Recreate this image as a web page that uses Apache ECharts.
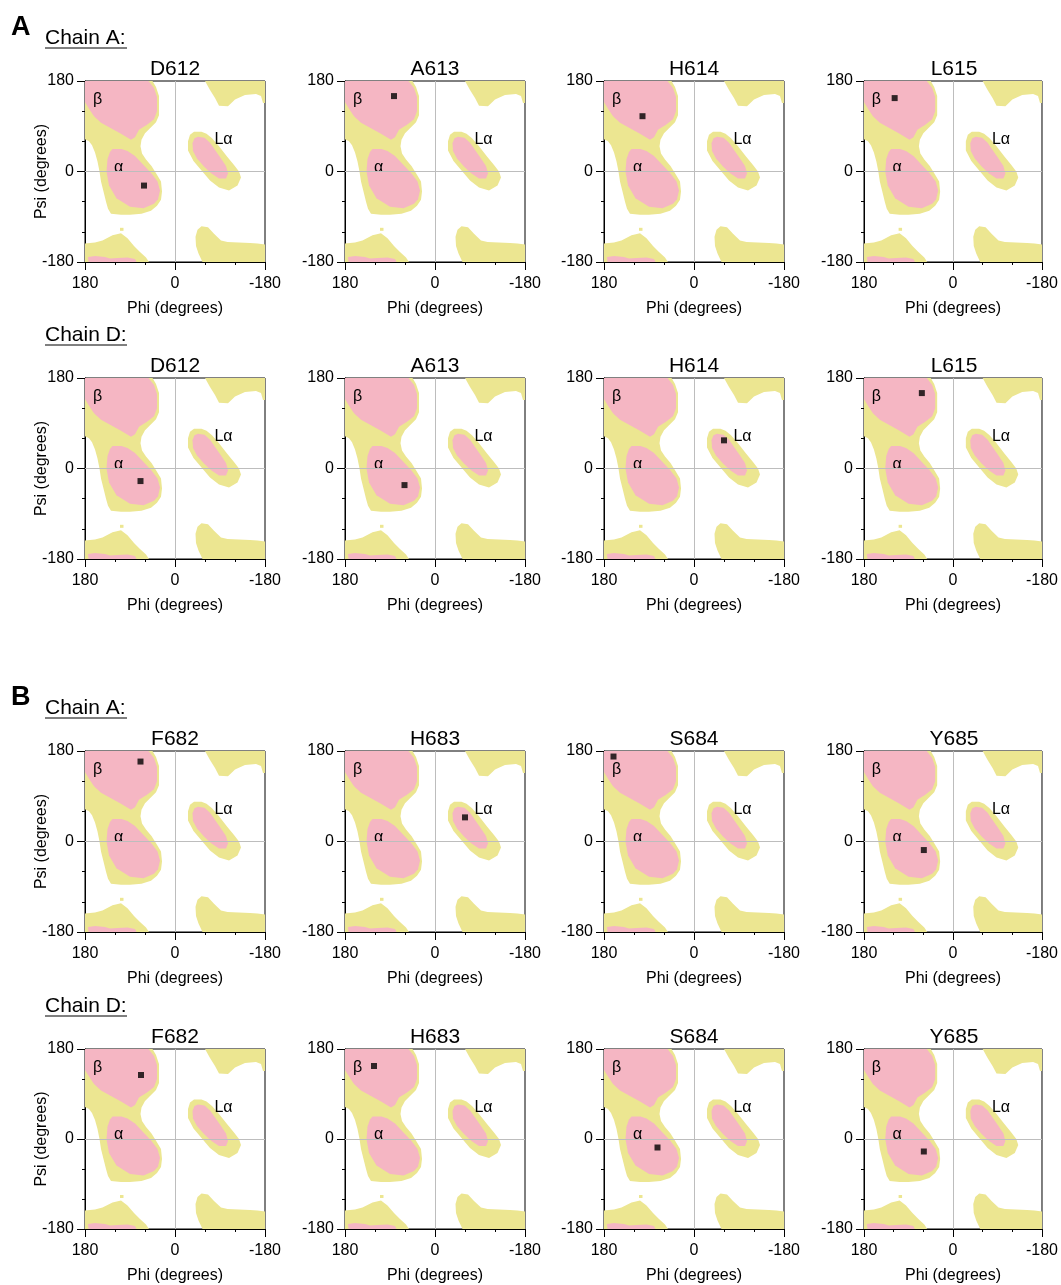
<!DOCTYPE html>
<html>
<head>
<meta charset="utf-8">
<script src="https://cdn.jsdelivr.net/npm/echarts@6/dist/echarts.min.js"></script>
<style>
html,body{margin:0;padding:0;background:#fff;}
#chart{width:1061px;height:1285px;}
</style>
</head>
<body>
<div id="chart"></div>
<script>
// ---------- DATA ----------
// residues shown in each row (panel A: rows 1-2, panel B: rows 3-4)
const panelAResidues = ['D612', 'A613', 'H614', 'L615'];
const panelBResidues = ['F682', 'H683', 'S684', 'Y685'];

// (phi, psi) of each residue, in degrees
const panelA_chainA_phi = [62, 82, 103, 118];
const panelA_chainA_psi = [-28, 150, 110, 146];
const panelA_chainD_phi = [69, 61, -60, 63];
const panelA_chainD_psi = [-25, -33, 56, 150];
const panelB_chainA_phi = [69, -60, 161, 59];
const panelB_chainA_psi = [159, 48, 169, -17];
const panelB_chainD_phi = [68, 122, 73, 59];
const panelB_chainD_psi = [128, 146, -17, -25];

// background regions (phi, psi vertices in degrees)
const yellowLeft = [[180,180],[45,180],[38,168],[32,150],[32,112],[38,98],[50,86],[60,76],[67,63],[69,50],[66,36],[58,24],[47,11],[37,-5],[28,-20],[26,-40],[28,-56],[36,-68],[48,-78],[67,-84],[90,-86],[108,-86],[128,-84],[134,-74],[138,-60],[143,-40],[148,-20],[151,0],[155,20],[160,38],[166,52],[172,60],[180,64]];
const yellowTopRight = [[-60,180],[-70,162],[-80,146],[-88,131],[-106,130],[-120,143],[-140,152],[-162,154],[-172,150],[-176,136],[-180,136],[-180,180]];
const yellowBottomRight = [[-55,-180],[-47,-163],[-42,-148],[-41,-130],[-45,-116],[-53,-109],[-66,-111],[-78,-124],[-92,-137],[-105,-140],[-150,-142],[-165,-143],[-180,-145],[-180,-180]];
const yellowBottomLeft = [[180,-180],[180,-143],[160,-141],[145,-137],[125,-127],[108,-123],[95,-133],[82,-148],[70,-160],[58,-171],[52,-180]];
const yellowLalpha = [[-38,79],[-53,79],[-63,75],[-74,66],[-88,50],[-104,30],[-118,13],[-128,0],[-132,-12],[-125,-28],[-108,-38],[-88,-32],[-70,-18],[-53,2],[-37,21],[-26,42],[-26,60],[-30,73]];
const yellowDot = [[110,-112],[103,-112],[103,-118],[110,-118]];
const pinkBeta = [[180,180],[53,180],[42,166],[36,148],[36,120],[42,104],[56,93],[72,83],[80,68],[88,63],[108,75],[128,86],[148,97],[162,110],[172,125],[180,138]];
const pinkAlpha = [[125,45],[107,45],[95,41],[80,31],[63,13],[47,-4],[35,-20],[30,-38],[34,-55],[42,-64],[63,-73],[90,-70],[117,-53],[132,-28],[137,0],[135,25],[130,39]];
const pinkLalpha = [[-46,69],[-59,67],[-70,57],[-80,43],[-92,26],[-102,11],[-106,-4],[-102,-14],[-88,-14],[-73,-4],[-58,10],[-44,26],[-36,41],[-35,56],[-39,66]];
const pinkBottomStrip = [[173,-180],[174,-170],[160,-168],[140,-170],[130,-173],[115,-172],[95,-171],[80,-174],[77,-180]];

const yellowRegions = [yellowLeft, yellowTopRight, yellowBottomRight, yellowBottomLeft, yellowLalpha, yellowDot];
const pinkRegions = [pinkBeta, pinkAlpha, pinkLalpha, pinkBottomStrip];

// region labels: phi, psi, text
const regionLabels = [[155, 143, 'β'], [113, 8, 'α'], [-97, 63, 'Lα']];

const tickValues = [180, 0, -180];

// ---------- LAYOUT ----------
const FONT = '"Liberation Sans", Arial, Helvetica, sans-serif';
const YELLOW = '#ECE691';
const PINK = '#F5B6C3';
const colLeft = [85, 345, 604, 864];
const rowTop = [81, 378, 751, 1049];
const plotW = 180, plotH = 181;

const rows = [
  {names: panelAResidues, phi: panelA_chainA_phi, psi: panelA_chainA_psi},
  {names: panelAResidues, phi: panelA_chainD_phi, psi: panelA_chainD_psi},
  {names: panelBResidues, phi: panelB_chainA_phi, psi: panelB_chainA_psi},
  {names: panelBResidues, phi: panelB_chainD_phi, psi: panelB_chainD_psi}
];

const allRegions = yellowRegions.map(p => ({poly: p, color: YELLOW}))
  .concat(pinkRegions.map(p => ({poly: p, color: PINK})));

const grids = [], xAxes = [], yAxes = [], series = [], titles = [];
let idx = 0;
rows.forEach((row, r) => {
  row.names.forEach((name, c) => {
    const i = idx++;
    grids.push({left: colLeft[c], top: rowTop[r], width: plotW, height: plotH,
      show: true, borderColor: '#000', borderWidth: 1, backgroundColor: '#fff'});
    const common = {
      gridIndex: i, type: 'value', min: -180, max: 180, interval: 180,
      axisLine: {show: true, onZero: false, lineStyle: {color: '#000', width: 1}},
      axisTick: {show: true, length: 8, lineStyle: {color: '#000'}},
      minorTick: {show: true, splitNumber: 3, length: 3, lineStyle: {color: '#000'}},
      splitLine: {show: false},
      axisLabel: {fontSize: 16, color: '#000', fontFamily: FONT,
        showMinLabel: true, showMaxLabel: true,
        formatter: v => tickValues.includes(v) ? String(v) : ''},
      nameLocation: 'middle',
      nameTextStyle: {fontSize: 16, color: '#000', fontFamily: FONT}
    };
    xAxes.push(Object.assign({}, common, {
      inverse: true, name: 'Phi (degrees)', nameGap: 39,
      axisLabel: Object.assign({}, common.axisLabel, {margin: 14})
    }));
    yAxes.push(Object.assign({}, common, {
      name: c === 0 ? 'Psi (degrees)' : '', nameGap: 35, nameMoveOverlap: false,
      axisLabel: Object.assign({}, common.axisLabel, {margin: 11})
    }));
    titles.push({text: name, left: colLeft[c] + plotW / 2, top: rowTop[r] - 22,
      textAlign: 'center', padding: 0,
      textStyle: {fontSize: 21, fontWeight: 'normal', color: '#000', fontFamily: FONT}});
    series.push({
      type: 'custom', xAxisIndex: i, yAxisIndex: i, silent: true, z: 1,
      data: allRegions.map((_, k) => k),
      renderItem: (params, api) => {
        const reg = allRegions[api.value(0)];
        return {type: 'polygon', shape: {points: reg.poly.map(p => api.coord(p))},
          style: {fill: reg.color, stroke: null}};
      }
    });
    series.push({
      type: 'custom', xAxisIndex: i, yAxisIndex: i, silent: true, z: 3,
      data: regionLabels.map((_, k) => k),
      renderItem: (params, api) => {
        const lab = regionLabels[api.value(0)];
        const pt = api.coord([lab[0], lab[1]]);
        return {type: 'text', x: pt[0], y: pt[1],
          style: {text: lab[2], fontSize: 16, fontFamily: FONT, fill: '#000',
            align: 'center', verticalAlign: 'middle'}};
      }
    });
    series.push({
      type: 'scatter', xAxisIndex: i, yAxisIndex: i, z: 5, silent: true,
      symbol: 'rect', symbolSize: 6, itemStyle: {color: '#000'},
      data: [[row.phi[c], row.psi[c]]],
      markLine: {silent: true, symbol: ['none', 'none'], label: {show: false},
        lineStyle: {color: '#bdbdbd', type: 'solid', width: 1},
        data: [{xAxis: 0}, {yAxis: 0}]}
    });
  });
});

// panel letters and chain headers
const headers = [
  {letter: 'A', chain: 'Chain A:', row: 0},
  {letter: '', chain: 'Chain D:', row: 1},
  {letter: 'B', chain: 'Chain A:', row: 2},
  {letter: '', chain: 'Chain D:', row: 3}
];
const graphic = [];
headers.forEach(h => {
  const cy = rowTop[h.row] - 43;
  if (h.letter) {
    graphic.push({type: 'text', x: 11, y: cy - 10, style: {text: h.letter, fontSize: 27,
      fontWeight: 'bold', fontFamily: FONT, fill: '#000', verticalAlign: 'middle'}});
  }
  graphic.push({type: 'text', x: 45, y: cy, style: {text: h.chain, fontSize: 21,
    fontFamily: FONT, fill: '#000', verticalAlign: 'middle'}});
  graphic.push({type: 'line', shape: {x1: 45, y1: cy + 10, x2: 127, y2: cy + 10},
    style: {stroke: '#000', lineWidth: 1}});
});

const chart = echarts.init(document.getElementById('chart'), null, {renderer: 'canvas'});
chart.setOption({
  animation: false,
  backgroundColor: '#fff',
  textStyle: {fontFamily: FONT},
  title: titles,
  grid: grids,
  xAxis: xAxes,
  yAxis: yAxes,
  series: series,
  graphic: graphic
});
</script>
</body>
</html>
